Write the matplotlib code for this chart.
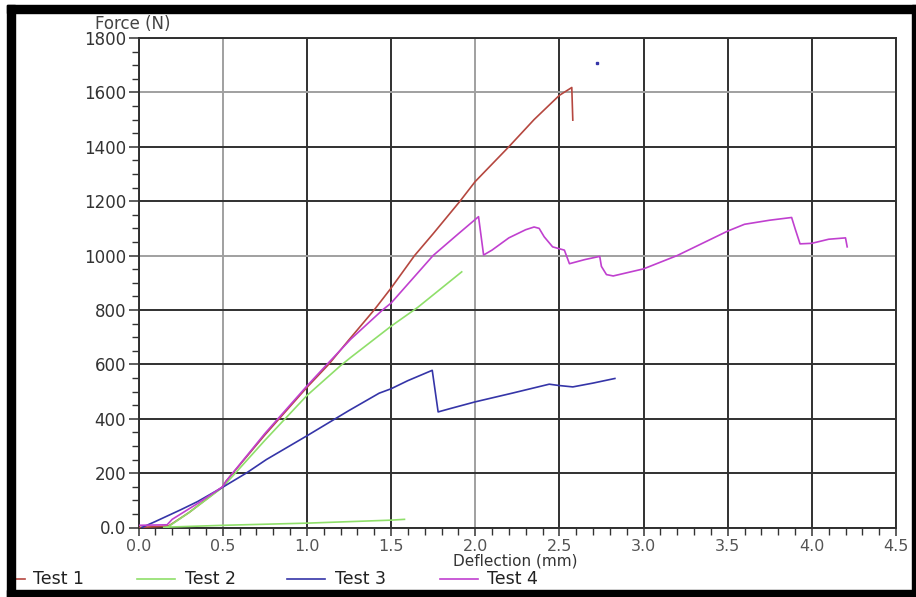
import matplotlib
matplotlib.use("Agg")
import matplotlib.pyplot as plt
import numpy as np
from matplotlib.lines import Line2D
from matplotlib.patches import Rectangle
from matplotlib.ticker import MultipleLocator, FuncFormatter

plt.rcParams['font.family'] = ['DejaVu Sans']

# ---- data ----
t1_x = [0.00, 0.10, 0.18, 0.30, 0.50, 0.52, 0.75, 1.00, 1.13, 1.25, 1.40, 1.50, 1.64, 1.75, 1.91, 2.00, 2.20, 2.35, 2.50, 2.574, 2.58]
t1_y = [0, 3, 6, 55, 150, 170, 340, 515, 600, 690, 800, 880, 1000, 1080, 1200, 1272, 1400, 1500, 1589, 1618, 1498]

t2_x = [0.15, 0.50, 1.00, 1.50, 1.58, np.nan, 0.17, 0.30, 0.50, 0.52, 0.75, 1.00, 1.20, 1.26, 1.50, 1.66, 1.75, 1.92]
t2_y = [1, 8, 16, 27, 30, np.nan, 0, 55, 148, 162, 320, 485, 595, 625, 740, 810, 855, 940]

t3_x = [0.02, 0.10, 0.25, 0.35, 0.50, 0.64, 0.76, 1.00, 1.25, 1.43, 1.50, 1.60, 1.745, 1.78, 1.85, 2.00, 2.22, 2.44, 2.50, 2.58, 2.70, 2.83]
t3_y = [0, 22, 65, 95, 148, 200, 250, 337, 430, 494, 510, 540, 578, 425, 437, 462, 494, 527, 522, 517, 531, 548]
t3_dot_x = [2.725]
t3_dot_y = [1708]

t4_x = [0.00, 0.17, 0.20, 0.35, 0.50, 0.52, 0.75, 1.00, 1.12, 1.26, 1.45, 1.50, 1.75, 1.90, 2.02, 2.05, 2.10, 2.20, 2.30, 2.35, 2.38, 2.41, 2.46, 2.50, 2.53, 2.56, 2.65, 2.74, 2.75, 2.78, 2.82, 3.00, 3.20, 3.40, 3.50, 3.60, 3.75, 3.88, 3.90, 3.93, 4.00, 4.10, 4.20, 4.21]
t4_y = [8, 10, 30, 88, 150, 170, 345, 520, 600, 692, 800, 825, 1000, 1080, 1143, 1002, 1020, 1065, 1095, 1105, 1100, 1069, 1032, 1025, 1020, 970, 985, 997, 960, 930, 925, 951, 1000, 1060, 1090, 1115, 1130, 1140, 1100, 1043, 1045, 1060, 1065, 1032]

series_names = ["Test 1", "Test 2", "Test 3", "Test 4"]
colors = ["#b5473f", "#8fdf6a", "#3535a8", "#c040cf"]

x_ticks = [0.0, 0.5, 1.0, 1.5, 2.0, 2.5, 3.0, 3.5, 4.0, 4.5]
y_ticks = [0, 200, 400, 600, 800, 1000, 1200, 1400, 1600, 1800]
light_x_grid = [0.5, 2.0]
light_y_grid = [1000, 1600]

W, H = 916, 597
fig = plt.figure(figsize=(W / 100, H / 100), dpi=100)
fig.patch.set_facecolor("white")

ax_l, ax_r, ax_b, ax_t = 138.5, 896, 527.5, 38
ax = fig.add_axes([ax_l / W, 1 - ax_b / H, (ax_r - ax_l) / W, (ax_b - ax_t) / H])

ax.set_xlim(0, 4.5)
ax.set_ylim(0, 1800)

# grid
for xv in x_ticks:
    c = "#a0a0a0" if xv in light_x_grid else "#303030"
    ax.axvline(xv, color=c, lw=1.4, zorder=1)
for yv in y_ticks:
    c = "#a0a0a0" if yv in light_y_grid else "#303030"
    ax.axhline(yv, color=c, lw=1.4, zorder=1)

ax.plot(t1_x, t1_y, color=colors[0], lw=1.2, zorder=3)
ax.plot(t2_x, t2_y, color=colors[1], lw=1.2, zorder=3)
ax.plot(t3_x, t3_y, color=colors[2], lw=1.2, zorder=3)
ax.plot(t3_dot_x, t3_dot_y, 's', color=colors[2], ms=1.5, zorder=3)
ax.plot(t4_x, t4_y, color=colors[3], lw=1.2, zorder=4)

ax.set_xticks(x_ticks)
ax.set_yticks(y_ticks)
ax.xaxis.set_minor_locator(MultipleLocator(0.1))
ax.yaxis.set_minor_locator(MultipleLocator(50))
ax.xaxis.set_major_formatter(FuncFormatter(lambda v, p: f"{v:.1f}"))
ax.yaxis.set_major_formatter(FuncFormatter(lambda v, p: "0.0" if v == 0 else f"{int(v)}"))
ax.tick_params(axis="both", which="major", direction="out", length=7, width=1.1,
               color="#333333", pad=2)
ax.tick_params(axis="x", length=6, labelsize=11.5, labelcolor="#555555")
ax.tick_params(axis="y", labelsize=12, labelcolor="#333333")
ax.tick_params(axis="both", which="minor", direction="out", length=5, width=1.0, color="#333333")

for s in ax.spines.values():
    s.set_color("#303030")
    s.set_linewidth(1.4)

fig.text(95 / W, 1 - 24 / H, "Force (N)", fontsize=12, color="#444444", ha="left", va="center")
fig.text(515 / W, 1 - 561 / H, "Deflection (mm)", fontsize=11, color="#333333", ha="center", va="center")

# legend row
leg_y = 1 - 579 / H
line_starts = [-13, 137, 287, 440]
text_starts = [33, 185, 335, 487]
for name, col, xs, xt in zip(series_names, colors, line_starts, text_starts):
    xs0 = max(xs, 15)
    fig.add_artist(Line2D([xs0 / W, (xs + 38) / W], [leg_y, leg_y], color=col, lw=1.2))
    fig.text(xt / W, leg_y, name, fontsize=12.5, color="#222222", ha="left", va="center")

# black frame
for (x0, y0, w, h) in [(7, 5, 909, 8), (7, 5, 8, 592), (912, 5, 4, 592), (7, 590, 909, 7)]:
    fig.add_artist(Rectangle((x0 / W, 1 - (y0 + h) / H), w / W, h / H,
                             transform=fig.transFigure, color="black", zorder=10))

fig.savefig("out.png", dpi=100)
